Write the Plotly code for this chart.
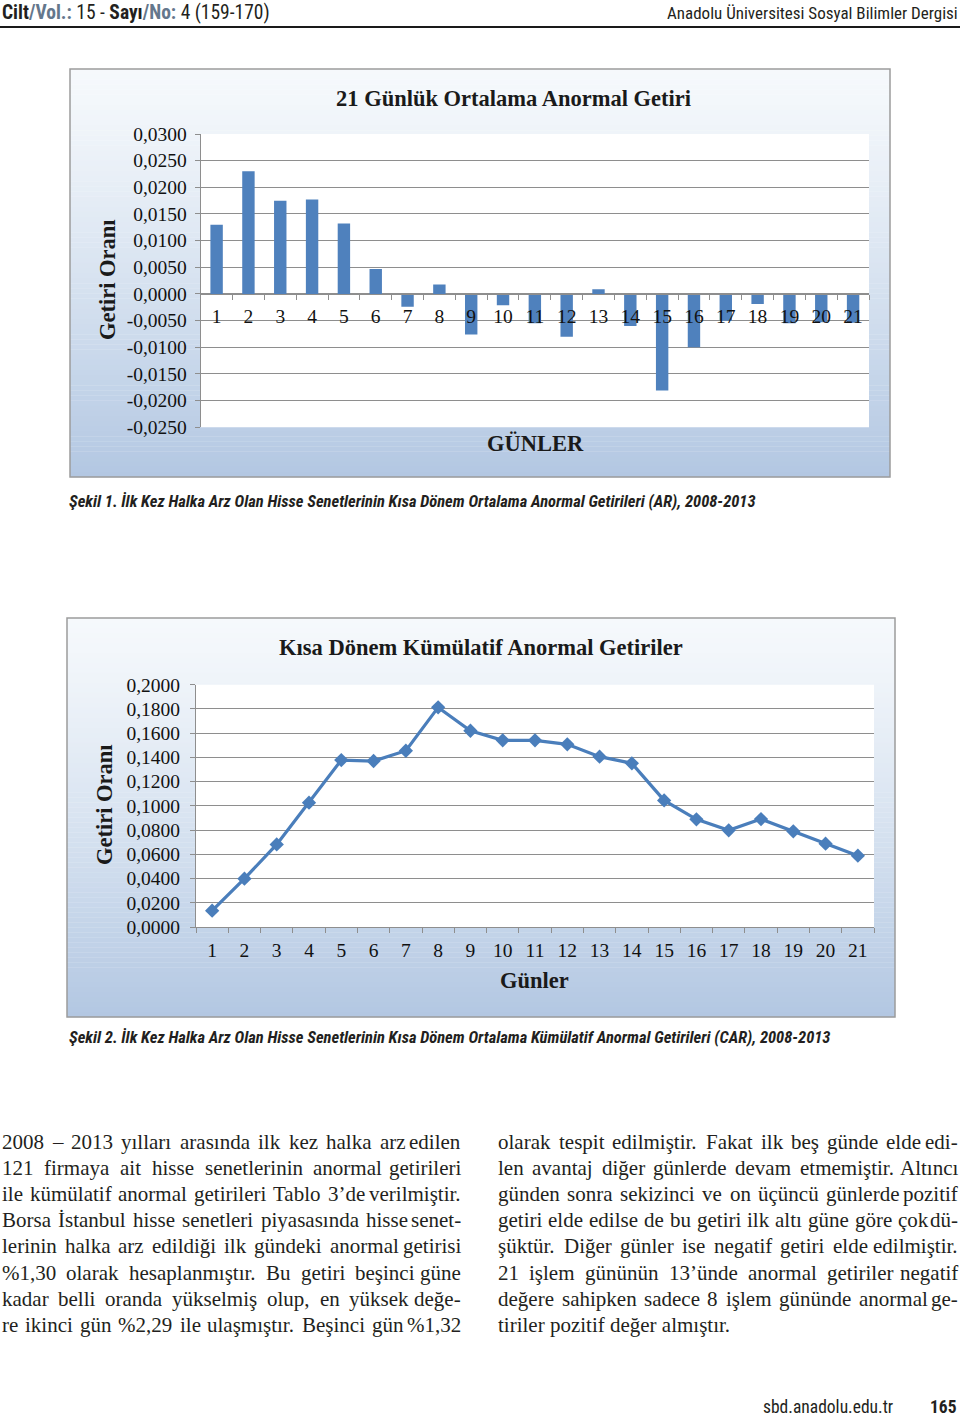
import plotly.graph_objects as go

W, H = 960, 1419

# ---------------- data ----------------
days = [str(i) for i in range(1, 22)]
ar_values = [0.0130, 0.0230, 0.0175, 0.0177, 0.0132, 0.0047, -0.0024, 0.0018,
             -0.0076, -0.0021, -0.0055, -0.0080, 0.0009, -0.0060, -0.0181,
             -0.0100, -0.0050, -0.0019, -0.0055, -0.0053, -0.0054]
car_values = [0.0135, 0.0399, 0.0682, 0.1026, 0.1378, 0.1370, 0.1455, 0.1813,
              0.1620, 0.1541, 0.1541, 0.1508, 0.1406, 0.1351, 0.1045, 0.0889,
              0.0798, 0.0891, 0.0790, 0.0688, 0.0589]
ar_tick_vals = [-0.025, -0.020, -0.015, -0.010, -0.005, 0.0, 0.005, 0.010,
                0.015, 0.020, 0.025, 0.030]
ar_tick_labels = ["-0,0250", "-0,0200", "-0,0150", "-0,0100", "-0,0050",
                  "0,0000", "0,0050", "0,0100", "0,0150", "0,0200", "0,0250",
                  "0,0300"]
car_tick_vals = [0.00, 0.02, 0.04, 0.06, 0.08, 0.10, 0.12, 0.14, 0.16, 0.18, 0.20]
car_tick_labels = ["0,0000", "0,0200", "0,0400", "0,0600", "0,0800", "0,1000",
                   "0,1200", "0,1400", "0,1600", "0,1800", "0,2000"]

chart1_title = "21 Günlük Ortalama Anormal Getiri"
chart2_title = "Kısa Dönem Kümülatif Anormal Getiriler"
y_title = "Getiri Oranı"
x1_title = "GÜNLER"
x2_title = "Günler"

caption1 = "Şekil 1. İlk Kez Halka Arz Olan Hisse Senetlerinin Kısa Dönem Ortalama Anormal Getirileri (AR), 2008-2013"
caption2 = "Şekil 2. İlk Kez Halka Arz Olan Hisse Senetlerinin Kısa Dönem Ortalama Kümülatif Anormal Getirileri (CAR), 2008-2013"

left_lines = [
    "2008 – 2013 yılları arasında ilk kez halka arz edilen",
    "121 firmaya ait hisse senetlerinin anormal getirileri",
    "ile kümülatif anormal getirileri Tablo 3’de verilmiştir.",
    "Borsa İstanbul hisse senetleri piyasasında hisse senet-",
    "lerinin halka arz edildiği ilk gündeki anormal getirisi",
    "%1,30 olarak hesaplanmıştır. Bu getiri beşinci güne",
    "kadar belli oranda yükselmiş olup, en yüksek değe-",
    "re ikinci gün %2,29 ile ulaşmıştır. Beşinci gün %1,32",
]
right_lines = [
    "olarak tespit edilmiştir. Fakat ilk beş günde elde edi-",
    "len avantaj diğer günlerde devam etmemiştir. Altıncı",
    "günden sonra sekizinci ve on üçüncü günlerde pozitif",
    "getiri elde edilse de bu getiri ilk altı güne göre çok dü-",
    "şüktür. Diğer günler ise negatif getiri elde edilmiştir.",
    "21 işlem gününün 13’ünde anormal getiriler negatif",
    "değere sahipken sadece 8 işlem gününde anormal ge-",
    "tiriler pozitif değer almıştır.",
]

# ---------------- helpers ----------------
def fx(px):
    return px / W


def fy(py):
    return 1 - py / H


SERIF = "Times New Roman, Liberation Serif, serif"
NARROW = "Roboto Condensed, DejaVu Sans Condensed, Liberation Sans Narrow, Liberation Sans, sans-serif"
BODY = "Liberation Serif, Times New Roman, serif"
GRID = "#8e8e8e"
BAR = "#4f81bd"
LINE = "#4a7ebb"
INK = "#231f20"

# plot-area pixel boxes
p1 = dict(x0=200.7, x1=869, y0=134, y1=427.3)
p2 = dict(x0=196, x1=874, y0=684.7, y1=927)
f1 = dict(x0=70, x1=890, y0=69, y1=477)
f2 = dict(x0=67, x1=895, y0=618, y1=1017)

x1dom = [fx(p1["x0"]), fx(p1["x1"])]
y1dom = [fy(p1["y1"]), fy(p1["y0"])]
x2dom = [fx(p2["x0"]), fx(p2["x1"])]
y2dom = [fy(p2["y1"]), fy(p2["y0"])]

ar_range = [-0.025, 0.030]
zero_pos = y1dom[0] + (0 - ar_range[0]) / (ar_range[1] - ar_range[0]) * (y1dom[1] - y1dom[0])

fig = go.Figure()

fig.add_trace(go.Bar(
    x=days, y=ar_values, marker=dict(color=BAR, line=dict(width=0)),
    xaxis="x", yaxis="y", showlegend=False,
))
fig.add_trace(go.Scatter(
    x=days, y=car_values, mode="lines+markers",
    line=dict(color=LINE, width=3.2),
    marker=dict(symbol="diamond", size=11, color=LINE),
    xaxis="x2", yaxis="y2", showlegend=False,
))

shapes = []


def gradient(frame, n=80):
    top = (246, 249, 252)
    bot = (178, 199, 226)
    h = (frame["y1"] - frame["y0"]) / n
    for i in range(n):
        t = (i + 0.5) / n
        t = t ** 1.2
        c = tuple(int(round(top[k] + (bot[k] - top[k]) * t)) for k in range(3))
        shapes.append(dict(
            type="rect", xref="paper", yref="paper", layer="below",
            x0=fx(frame["x0"]), x1=fx(frame["x1"]),
            y0=fy(frame["y0"] + (i + 1) * h + 0.3), y1=fy(frame["y0"] + i * h),
            line=dict(width=0), fillcolor="rgb(%d,%d,%d)" % c,
        ))
    shapes.append(dict(
        type="rect", xref="paper", yref="paper", layer="below",
        x0=fx(frame["x0"]), x1=fx(frame["x1"]),
        y0=fy(frame["y1"]), y1=fy(frame["y0"]),
        line=dict(width=1.5, color="#9c9c9c"), fillcolor="rgba(0,0,0,0)",
    ))


def plot_bg(p):
    shapes.append(dict(
        type="rect", xref="paper", yref="paper", layer="below",
        x0=fx(p["x0"]), x1=fx(p["x1"]), y0=fy(p["y1"]), y1=fy(p["y0"]),
        line=dict(width=0), fillcolor="white",
    ))


gradient(f1)
plot_bg(p1)
gradient(f2)
plot_bg(p2)

# header rule
shapes.append(dict(type="line", xref="paper", yref="paper",
                   x0=0, x1=1, y0=fy(27), y1=fy(27),
                   line=dict(color="#1a1a1a", width=2)))

annotations = []


def ann(text, x, y, size, family, xanchor="center", yanchor="middle",
        color="#111111", angle=0):
    annotations.append(dict(
        text=text, x=fx(x), y=fy(y), xref="paper", yref="paper",
        xanchor=xanchor, yanchor=yanchor, showarrow=False, textangle=angle,
        font=dict(size=size, family=family, color=color),
    ))


# Times New Roman advance widths (1/1000 em) used to justify body lines
CW = {" ": 250, "a": 444, "b": 500, "c": 444, "d": 500, "e": 444, "f": 333,
      "g": 500, "h": 500, "i": 278, "j": 278, "k": 500, "l": 278, "m": 778,
      "n": 500, "o": 500, "p": 500, "q": 500, "r": 333, "s": 389, "t": 278,
      "u": 500, "v": 500, "w": 722, "x": 500, "y": 500, "z": 444,
      "ı": 278, "ş": 389, "ğ": 500, "ü": 500, "ö": 500, "ç": 444,
      "A": 722, "B": 667, "C": 667, "D": 722, "E": 611, "F": 556, "G": 722,
      "H": 722, "I": 333, "İ": 333, "T": 611, "Ş": 556, "Ö": 722, "Ü": 722,
      ",": 250, ".": 250, "-": 333, "%": 833, "’": 333, "–": 500, ":": 278}


def tw(s, size):
    return sum(CW.get(ch, 500) for ch in s) / 1000.0 * size


def body_column(lines, x0, x1, ytop, lh, size, last_justified):
    for i, line in enumerate(lines):
        y = ytop + i * lh
        justified = (i < len(lines) - 1) or last_justified
        words = line.split(" ")
        if not justified or len(words) < 2:
            ann(line, x0, y, size, BODY, xanchor="left", color=INK)
            continue
        widths = [tw(w, size) for w in words]
        gap = (x1 - x0 - sum(widths)) / (len(words) - 1)
        x = x0
        for j, (w, wd) in enumerate(zip(words, widths)):
            if j == len(words) - 1:
                ann(w, x1, y, size, BODY, xanchor="right", color=INK)
            else:
                ann(w, x, y, size, BODY, xanchor="left", color=INK)
            x += wd + gap


# header
ann("<b>Cilt</b><b><span style='color:#64778c'>/Vol.:</span></b> 15 - "
    "<b>Sayı</b><b><span style='color:#64778c'>/No:</span></b> 4 (159-170)",
    0, 13, 19.5, NARROW, xanchor="left", color=INK)
ann("Anadolu Üniversitesi Sosyal Bilimler Dergisi", 960, 13, 17, NARROW,
    xanchor="right", color=INK)

# chart 1 texts
ann("<b>" + chart1_title + "</b>", 513, 98, 22.5, SERIF, color="#1a1a1a")
ann("<b>" + y_title + "</b>", 108, 280, 22.5, SERIF, angle=-90, color="#1a1a1a")
ann("<b>" + x1_title + "</b>", 535, 443, 22.5, SERIF, color="#1a1a1a")

# chart 2 texts
ann("<b>" + chart2_title + "</b>", 481, 647, 22.5, SERIF, color="#1a1a1a")
ann("<b>" + y_title + "</b>", 105, 805, 22.5, SERIF, angle=-90, color="#1a1a1a")
ann("<b>" + x2_title + "</b>", 534, 981, 22.5, SERIF, color="#1a1a1a")

# captions
ann("<b><i>" + caption1 + "</i></b>", 67, 502, 16.5, NARROW, xanchor="left", color=INK)
ann("<b><i>" + caption2 + "</i></b>", 67, 1037, 16.5, NARROW, xanchor="left", color=INK)

# body text (justified)
body_column(left_lines, 0, 463, 1142, 26.1, 21, True)
body_column(right_lines, 496, 960, 1142, 26.1, 21, False)

# footer (anchored on its bottom edge so it stays inside the page)
ann("sbd.anadolu.edu.tr", 761, 1419, 17.5, NARROW, xanchor="left",
    yanchor="bottom", color=INK)
ann("<b>165</b>", 959, 1419, 17.5, NARROW, xanchor="right",
    yanchor="bottom", color=INK)

axis_common = dict(showline=True, linecolor=GRID, linewidth=1, ticks="outside",
                   ticklen=5, tickcolor=GRID, tickwidth=1, automargin=False)

fig.update_layout(
    width=W, height=H,
    margin=dict(l=0, r=0, t=0, b=0, pad=0, autoexpand=False),
    paper_bgcolor="white", plot_bgcolor="rgba(0,0,0,0)",
    bargap=0.61, showlegend=False,
    shapes=shapes, annotations=annotations,
    xaxis=dict(domain=x1dom, anchor="free", position=zero_pos, type="category",
               range=[-0.5, 20.5], tickson="boundaries", showgrid=False,
               tickfont=dict(family=SERIF, size=19.5, color="#111111"),
               ticklabelstandoff=5, **axis_common),
    yaxis=dict(domain=y1dom, anchor="x", range=ar_range, tickmode="array",
               tickvals=ar_tick_vals, ticktext=ar_tick_labels, showgrid=True,
               gridcolor=GRID, gridwidth=1, zeroline=False,
               tickfont=dict(family=SERIF, size=19.5, color="#111111"),
               ticklabelstandoff=4, **axis_common),
    xaxis2=dict(domain=x2dom, anchor="y2", type="category", range=[-0.5, 20.5],
                tickson="boundaries", showgrid=False,
                tickfont=dict(family=SERIF, size=19.5, color="#111111"),
                ticklabelstandoff=6, **axis_common),
    yaxis2=dict(domain=y2dom, anchor="x2", range=[0, 0.2], tickmode="array",
                tickvals=car_tick_vals, ticktext=car_tick_labels, showgrid=True,
                gridcolor=GRID, gridwidth=1, zeroline=False,
                tickfont=dict(family=SERIF, size=19.5, color="#111111"),
                ticklabelstandoff=6, **axis_common),
)

post = ("var s=document.createElement('style');"
        "s.innerHTML='html,body{margin:0;padding:0;overflow:hidden;height:1419px;}"
        " .plotly-graph-div{position:absolute !important;left:0;top:0;}';"
        "document.head.appendChild(s);")

fig.write_html("out.html", post_script=post, config={"displayModeBar": False})
